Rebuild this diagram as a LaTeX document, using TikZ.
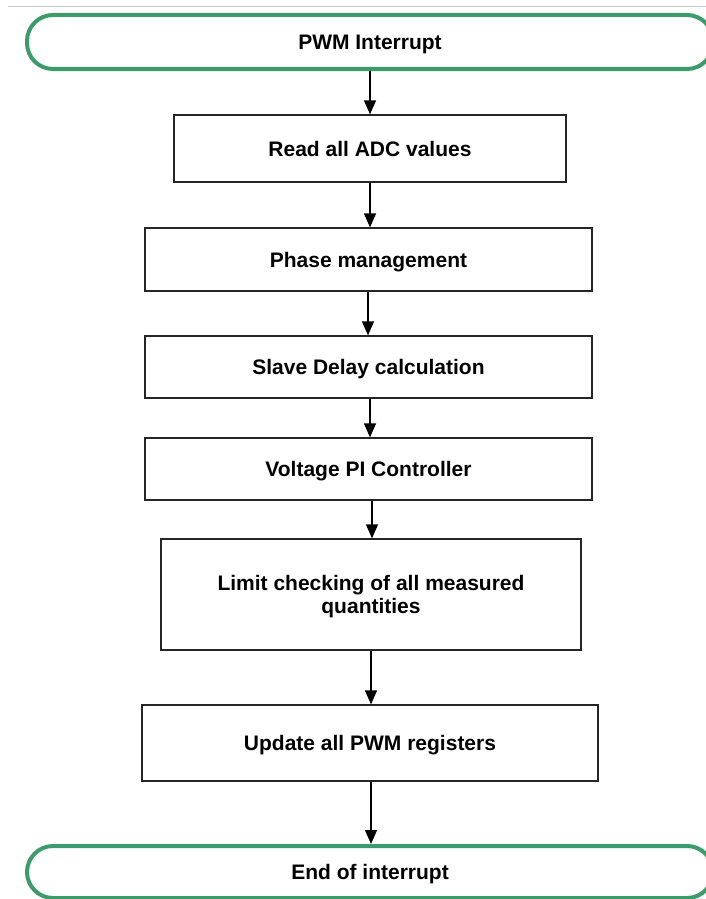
\documentclass[tikz,border=0pt]{standalone}
\usepackage{fontspec}
\setmainfont{Liberation Sans}
\usetikzlibrary{arrows.meta}
\definecolor{termgreen}{HTML}{3B9B6A}
\definecolor{rulegray}{HTML}{C8C8C8}
\tikzset{
  txt/.style={font=\fontsize{21}{22.5}\selectfont\bfseries, text=black, align=center,
    text height=15pt, text depth=0pt},
  terminal/.style={txt, draw=termgreen, line width=4pt, rounded corners=26pt, inner sep=0pt},
  procbox/.style={txt, draw=black!85, line width=1.3pt, inner sep=0pt},
  flow/.style={draw=black, line width=1.3pt, -{Triangle[width=12pt,length=14pt]}}
}
\begin{document}
\begin{tikzpicture}[x=1pt,y=-1pt]
  \useasboundingbox (0,0) rectangle (706,899);
  \clip (0,0) rectangle (706,899);
  \fill[white] (0,0) rectangle (706,899);
  % thin rule along the top
  \draw[rulegray, line width=1pt] (8,7) -- (720,7);

  \node[terminal, minimum width=686pt, minimum height=54pt] (start) at (370,42) {PWM Interrupt};
  \node[procbox, minimum width=392pt, minimum height=67pt] (adc) at (370,148.5) {Read all ADC values};
  \node[procbox, minimum width=447pt, minimum height=63pt] (phase) at (368.5,259.5) {Phase management};
  \node[procbox, minimum width=447pt, minimum height=62pt] (slave) at (368.5,367) {Slave Delay calculation};
  \node[procbox, minimum width=447pt, minimum height=62pt] (volt) at (368.5,469) {Voltage PI Controller};
  % two-line box: text box spans first cap line to last baseline
  \node[procbox, minimum width=420pt, minimum height=111pt, text height=37.5pt, text depth=0pt]
    (limit) at (371,594.5) {Limit checking of all measured\\quantities};
  \node[procbox, minimum width=456pt, minimum height=76pt] (pwm) at (370,743) {Update all PWM registers};
  \node[terminal, minimum width=686pt, minimum height=52pt] (stop) at (370,872) {End of interrupt};

  \draw[flow] (start.south) -- (start.south |- adc.north);
  \draw[flow] (adc.south) -- (adc.south |- phase.north);
  \draw[flow] ([xshift=-0.5pt]phase.south) -- ([xshift=-0.5pt]phase.south |- slave.north);
  \draw[flow] ([xshift=1.5pt]slave.south) -- ([xshift=1.5pt]slave.south |- volt.north);
  \draw[flow] ([xshift=3.5pt]volt.south) -- ([xshift=3.5pt]volt.south |- limit.north);
  \draw[flow] (limit.south) -- (limit.south |- pwm.north);
  \draw[flow] ([xshift=1pt]pwm.south) -- ([xshift=1pt]pwm.south |- stop.north);
\end{tikzpicture}
\end{document}
